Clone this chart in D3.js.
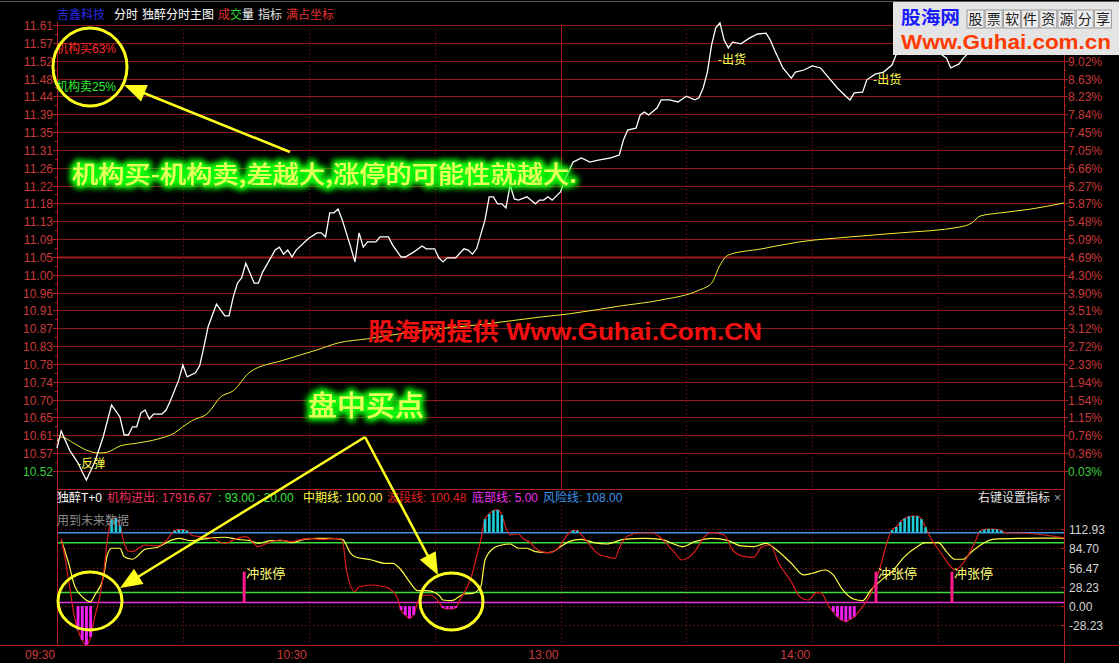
<!DOCTYPE html>
<html><head><meta charset="utf-8">
<script src="https://cdn.jsdelivr.net/npm/d3@7"></script>
<style>
html,body{margin:0;padding:0;background:#000;overflow:hidden;}
svg{display:block;}
</style></head><body>
<svg id="c" width="1119" height="663"></svg>
<script>
// ---------------- DATA ----------------
const priceLabels = ["11.61","11.57","11.52","11.48","11.44","11.39","11.35","11.31","11.26","11.22","11.18","11.13","11.09","11.05","11.00","10.96","10.91","10.87","10.83","10.78","10.74","10.70","10.65","10.61","10.57","10.52"];
// top two percent labels are hidden under the watermark in the picture
const pctLabels = ["","","9.02%","8.63%","8.23%","7.84%","7.45%","7.05%","6.66%","6.27%","5.87%","5.48%","5.09%","4.69%","4.30%","3.90%","3.51%","3.12%","2.72%","2.33%","1.94%","1.54%","1.15%","0.76%","0.36%","0.03%"];
const timeLabels = ["09:30","10:30","13:00","14:00"];
const timeLabelMinutes = [0,60,120,180];
const gridMinutes = [30,60,90,120,150,180,210];
const lowerTicks = [112.93,84.70,56.47,28.23,0.00,-28.23];

const priceMinutes = [0,1,3,5,6,7,9,11,13,15,16,17,18,19,20,21,22,23,25,26,27,29,30,31,33,34,35,36,38,40,41,42,43,44,45,47,48,49,52,53,54,55,56,57,60,62,63,64,65,66,67,68,70,71,72,73,74,76,77,79,80,82,83,85,87,88,90,91,92,93,95,97,98,99,100,102,103,104,105,106,107,108,109,110,112,114,115,116,117,118,120,121,123,125,127,129,132,134,135,136,138,139,140,141,143,144,146,148,150,152,153,154,155,156,157,158,159,160,161,163,165,167,169,170,171,173,175,176,178,180,182,184,186,188,189,190,192,193,195,197,199,200,201,203,206,208,210,212,213,215,216,218,220,222,225,228,232,235,240];
const priceValues = [10.576,10.618,10.571,10.540,10.518,10.498,10.542,10.603,10.681,10.652,10.608,10.608,10.628,10.628,10.662,10.669,10.647,10.659,10.659,10.669,10.691,10.742,10.779,10.750,10.760,10.777,10.823,10.872,10.928,10.899,10.899,10.945,10.979,10.992,11.028,10.979,10.979,11.006,11.060,11.067,11.050,11.060,11.043,11.060,11.089,11.102,11.102,11.092,11.151,11.151,11.160,11.133,11.067,11.031,11.102,11.067,11.080,11.080,11.092,11.092,11.072,11.043,11.043,11.055,11.070,11.063,11.063,11.041,11.031,11.041,11.041,11.063,11.060,11.050,11.063,11.133,11.190,11.190,11.173,11.173,11.163,11.219,11.185,11.182,11.190,11.173,11.182,11.182,11.190,11.182,11.202,11.231,11.275,11.285,11.275,11.280,11.285,11.292,11.329,11.353,11.358,11.390,11.397,11.390,11.407,11.427,11.427,11.422,11.436,11.427,11.432,11.456,11.495,11.561,11.603,11.615,11.573,11.554,11.568,11.564,11.578,11.588,11.590,11.573,11.549,11.505,11.480,11.495,11.500,11.510,11.505,11.480,11.456,11.436,11.427,11.444,11.446,11.476,11.490,11.495,11.512,11.537,11.561,11.578,11.586,11.573,11.544,11.529,11.505,11.515,11.529,11.549,11.573,11.586,11.593,11.598,11.590,11.598,11.603];

const avgMinutes = [0,1,4,7,10,12,15,19,24,28,30,32,36,39,42,46,54,62,67,74,86,102,115,122,134,144,153,156,158,160,168,177,189,201,215,218,220,225,232,240];
const avgValues = [10.593,10.603,10.588,10.571,10.564,10.566,10.581,10.588,10.598,10.613,10.628,10.642,10.662,10.701,10.716,10.762,10.791,10.816,10.833,10.843,10.862,10.879,10.896,10.904,10.923,10.938,10.962,10.979,11.023,11.048,11.063,11.080,11.092,11.102,11.116,11.126,11.143,11.151,11.160,11.175];

// 中期线 (yellow)
const midMinutes = [1,3,4,6,8,9,11,12,13,15,16,18,19,21,24,27,29,32,36,40,43,46,48,51,54,56,59,62,65,68,70,71,75,78,80,82,84,86,88,91,92,94,97,99,101,102,104,106,108,110,112,114,117,119,120,121,122,125,128,131,135,140,144,147,149,152,156,160,163,166,169,171,175,178,180,183,185,187,190,192,194,197,199,202,205,207,210,212,214,216,218,221,223,231,240];
const midValues = [97.2,57.9,33.4,13.7,6.3,16.2,40.8,75.1,85.0,85.0,72.6,68.8,72.6,83.5,86.5,96.2,99.7,96.2,99.7,101.2,98.2,96.2,92.3,96.2,96.2,93.2,98.2,99.7,99.7,98.2,77.6,72.6,67.7,62.9,62.9,53.0,35.8,22.5,22.5,16.2,8.8,7.8,17.7,18.7,28.4,67.7,85.0,89.8,91.3,85.0,85.0,80.0,78.5,82.5,87.3,91.3,94.7,98.2,93.2,91.3,98.2,99.7,98.2,91.3,87.3,94.7,99.7,96.2,88.4,87.3,92.3,85.0,62.9,45.7,48.2,53.0,45.7,26.1,9.9,7.8,23.6,40.8,50.5,72.6,87.3,93.2,93.2,80.0,68.8,68.8,80.0,93.2,98.2,99.7,100.0];

// 波段线 (red)
const waveMinutes = [1,2,3,4,5,6,7,8,9,10,11,12,13,14,15,16,17,18,20,21,24,26,28,29,30,31,32,34,37,40,43,45,48,50,53,56,57,60,63,67,68,69,71,72,75,78,79,81,82,83,84,85,86,87,89,91,92,93,94,95,96,98,99,100,101,102,103,104,105,106,107,108,110,111,113,114,117,119,120,121,122,123,124,125,126,129,131,133,134,136,139,142,144,147,149,152,154,156,159,161,164,166,168,170,172,175,177,179,181,182,184,185,186,187,188,189,190,192,194,196,198,199,200,201,202,203,204,205,206,207,208,211,213,214,217,219,220,221,222,223,224,225,226,231,240];
const waveValues = [99.7,67.7,28.4,-10.8,-35.3,-50.1,-57.4,-45.7,-16,8.8,43.2,97.2,128,129.6,117.8,92.8,81,80,87.3,89.8,88.4,96.2,110.9,112.4,112.4,110.9,104.6,102.1,99.7,92.3,99.7,102.1,87.3,92.3,97.2,94.7,96.2,99.7,98.2,99.7,96.2,53,21.1,28.4,30.9,28.4,26.1,13.7,-5.9,-13.3,-18.1,-13.3,6.6,14.7,16.2,5.9,-2.9,-4.4,-4.4,-2.9,8.8,30.9,48.2,72.6,97.2,128.1,135.5,140.6,141.4,134,114.9,104.6,106,99.7,92.3,85,78.5,82.5,89.8,99.7,107.5,111.2,110.9,104.6,97.2,76.6,72.6,70.2,85,103.1,107.5,107.5,99.7,80,67.7,80,99.7,107.9,104.6,82.5,72.6,71.7,87.3,89.8,62.9,35.8,13.7,8.8,19.6,19.6,-1,-8.4,-15.7,-20.6,-23.1,-19.6,-15.7,-1,18.7,53,97.2,111.9,116.3,123.7,128.9,131.8,132.5,132.5,128,116,103,75.1,57.9,53,72.6,97.2,110.5,112.7,113.4,113.4,112.7,111.2,107.8,107.1,100.5];

const cyanMinutes = [13,14,15,28,29,30,31,102,103,104,105,106,123,124,199,200,201,202,203,204,205,206,207,220,221,222,223,224,225];
const cyanValues = [128,129.6,117.8,110.9,112.4,112.4,110.9,128.1,135.5,140.6,141.4,134,111.2,110.9,111.9,116.3,123.7,128.9,131.8,132.5,132.5,128,116,110.5,112.7,113.4,113.4,112.7,111.2];
const magMinutes = [5,6,7,8,82,83,84,85,92,93,94,95,185,186,187,188,189,190];
const magValues = [-35.3,-50.1,-57.4,-45.7,-5.9,-13.3,-18.1,-13.3,-2.9,-4.4,-4.4,-2.9,-8.4,-15.7,-20.6,-23.1,-19.6,-15.7];
const surgeMinutes = [44.6,195.2,213.3];
const surgeValues = [50.5,50.5,50.5];

const riskLine = 108, midGreen = 93, lowGreen = 20, bottomLine = 5;

// ---------------- SETUP ----------------
const F = "'Liberation Sans','Noto Sans CJK SC',sans-serif";
const CJK = "'Noto Sans CJK SC',sans-serif";
const svg = d3.select('#c');
const X0 = 57, X1 = 1064;
const x = d3.scaleLinear().domain([0,240]).range([X0,X1]);
const yP = d3.scaleLinear().domain([10.52,11.61]).range([471,25]);
const yGrid = d3.scalePoint().domain(priceLabels).range([25,471]);
const yI = d3.scaleLinear().domain([0,112.93]).range([606,529.3]);
const zip = (a,b)=>a.map((m,i)=>({m:m,v:b[i]}));

const defs = svg.append('defs');
const f = defs.append('filter').attr('id','glow').attr('x','-10%').attr('y','-60%').attr('width','120%').attr('height','220%');
f.append('feMorphology').attr('in','SourceAlpha').attr('operator','dilate').attr('radius',2).attr('result','d');
f.append('feGaussianBlur').attr('in','d').attr('stdDeviation',3.2).attr('result','b');
f.append('feFlood').attr('flood-color','#10ff10').attr('flood-opacity',0.95);
f.append('feComposite').attr('in2','b').attr('operator','in').attr('result','g');
const fm = f.append('feMerge');
fm.append('feMergeNode').attr('in','g');
fm.append('feMergeNode').attr('in','g');
fm.append('feMergeNode').attr('in','SourceGraphic');

svg.append('rect').attr('width',1119).attr('height',663).attr('fill','#000');
svg.append('line').attr('x1',0).attr('x2',1119).attr('y1',1.5).attr('y2',1.5).attr('stroke','#5a5a5a');

const g = svg.append('g');
function txt(px,py,s,fill,size,anchor,family){
  return g.append('text').attr('x',px).attr('y',py).attr('dy','0.35em')
    .attr('fill',fill).attr('font-size',size||12).attr('font-family',family||F)
    .attr('text-anchor',anchor||'start').text(s);
}

// ---------------- MAIN GRID ----------------
priceLabels.forEach((lab,i)=>{
  const yy = Math.round(yGrid(lab))+0.5;
  g.append('line').attr('x1',X0).attr('x2',X1).attr('y1',yy).attr('y2',yy)
    .attr('stroke', lab==="11.05" ? '#a01a1a' : '#8e1717').attr('stroke-width', lab==="11.05"?2:1);
  g.append('line').attr('x1',X0-4).attr('x2',X0).attr('y1',yy).attr('y2',yy).attr('stroke','#b02020');
  g.append('line').attr('x1',X1).attr('x2',X1+4).attr('y1',yy).attr('y2',yy).attr('stroke','#b02020');
  if(i<priceLabels.length-1){
    const ym = Math.round((yGrid(lab)+yGrid(priceLabels[i+1]))/2)+0.5;
    g.append('line').attr('x1',X0-2).attr('x2',X0).attr('y1',ym).attr('y2',ym).attr('stroke','#b02020');
    g.append('line').attr('x1',X1).attr('x2',X1+2).attr('y1',ym).attr('y2',ym).attr('stroke','#b02020');
  }
  const low = lab==="10.52";
  txt(53, yy, lab, low?'#3cc83c':'#c83a3a', 12, 'end');
  if(pctLabels[i]) txt(1068, yy, pctLabels[i], low?'#3cc83c':'#c83a3a', 12, 'start');
});
gridMinutes.forEach(m=>{
  const xx = Math.round(x(m))+0.5;
  g.append('line').attr('x1',xx).attr('x2',xx).attr('y1',25).attr('y2',489)
    .attr('stroke', m===120?'#a81c1c':'#8e1717').attr('stroke-dasharray', m===120?null:'1,3');
  g.append('line').attr('x1',xx).attr('x2',xx).attr('y1',489).attr('y2',645)
    .attr('stroke','#8e1717').attr('stroke-dasharray','1,3');
});

// lower grid
lowerTicks.forEach(v=>{
  const yy = Math.round(yI(v))+0.5;
  g.append('line').attr('x1',X0).attr('x2',X1).attr('y1',yy).attr('y2',yy)
    .attr('stroke','#9a1818').attr('stroke-dasharray','1,3');
  g.append('line').attr('x1',X1-3).attr('x2',X1).attr('y1',yy).attr('y2',yy).attr('stroke','#b02020');
  txt(1069, yy, v.toFixed(2), '#d4d4d4', 12, 'start');
});

// frame
g.append('line').attr('x1',X0+0.5).attr('x2',X0+0.5).attr('y1',22).attr('y2',645).attr('stroke','#b02020');
g.append('line').attr('x1',X1+0.5).attr('x2',X1+0.5).attr('y1',22).attr('y2',663).attr('stroke','#b02020');
g.append('line').attr('x1',X0).attr('x2',X1).attr('y1',489.5).attr('y2',489.5).attr('stroke','#b02020');
g.append('line').attr('x1',0).attr('x2',1119).attr('y1',645.5).attr('y2',645.5).attr('stroke','#b02020');

// time labels
timeLabels.forEach((t,i)=>{
  txt(x(timeLabelMinutes[i])-2, 655, t, '#c83a3a', 12, 'end');
});

// level lines
[[riskLine,'#3c96e6'],[midGreen,'#3ce03c'],[lowGreen,'#3ce03c'],[bottomLine,'#e034e0']].forEach(([v,c])=>{
  g.append('line').attr('x1',X0+1).attr('x2',X1).attr('y1',yI(v)).attr('y2',yI(v)).attr('stroke',c).attr('stroke-width',1.5);
});

// ---------------- MAIN LINES ----------------
g.append('path').datum(zip(avgMinutes,avgValues))
  .attr('d',d3.line().x(d=>x(d.m)).y(d=>yP(d.v)).curve(d3.curveMonotoneX))
  .attr('fill','none').attr('stroke','#f0f032').attr('stroke-width',1);
g.append('path').datum(zip(priceMinutes,priceValues))
  .attr('d',d3.line().x(d=>x(d.m)).y(d=>yP(d.v)))
  .attr('fill','none').attr('stroke','#ffffff').attr('stroke-width',1.3);

// ---------------- LOWER LINES ----------------
const lineI = d3.line().x(d=>x(d.m)).y(d=>yI(d.v)).curve(d3.curveMonotoneX);
g.append('path').datum(zip(midMinutes,midValues)).attr('d',lineI)
  .attr('fill','none').attr('stroke','#ffff46').attr('stroke-width',1.2);
g.append('path').datum(zip(waveMinutes,waveValues)).attr('d',lineI)
  .attr('fill','none').attr('stroke','#dc1c1c').attr('stroke-width',1.2);

g.selectAll('.cy').data(zip(cyanMinutes,cyanValues)).enter().append('rect')
  .attr('x',d=>x(d.m)-1.2).attr('width',2.6)
  .attr('y',d=>yI(d.v)).attr('height',d=>yI(riskLine)-yI(d.v))
  .attr('fill','#1ecbd8');
g.selectAll('.mg').data(zip(magMinutes,magValues)).enter().append('rect')
  .attr('x',d=>x(d.m)-1.4).attr('width',2.9)
  .attr('y',yI(0)).attr('height',d=>yI(d.v)-yI(0))
  .attr('fill','#f020f0');
const surge = zip(surgeMinutes,surgeValues);
g.selectAll('.sg').data(surge).enter().append('rect')
  .attr('x',d=>x(d.m)-1.5).attr('width',3)
  .attr('y',d=>yI(d.v)).attr('height',d=>yI(bottomLine)-yI(d.v))
  .attr('fill','#ff1a8c');
surge.forEach(d=>txt(x(d.m)+2, yI(d.v)+1.5, '冲张停', '#ffff78', 13, 'start', CJK));

// ---------------- TEXT LABELS ----------------
txt(57,15,'吉鑫科技','#2a2ae0',12,'start',CJK);
txt(114,15,'分时','#ffffff',12,'start',CJK);
txt(142,15,'独醉分时主图','#ffffff',12,'start',CJK);
txt(218,15,'成','#e03030',12,'start',CJK);
txt(230,15,'交','#30d030',12,'start',CJK);
txt(242,15,'量','#ffffff',12,'start',CJK);
txt(258,15,'指标','#e0e0e0',12,'start',CJK);
txt(286,15,'满占坐标','#e03030',12,'start',CJK);

txt(56,49,'机构买63%','#ff2a2a',12,'start',F);
txt(56,87,'机构卖25%','#30ee30',12,'start',F);

txt(57,498,'独醉T+0','#ffffff',12);
txt(107,498,'机构进出: 17916.67','#e8305a',12);
txt(218,498,': 93.00','#3ce03c',12);
txt(257,498,': 20.00','#3ce03c',12);
txt(303,498,'中期线: 100.00','#ffff46',12);
txt(387,498,'波段线: 100.48','#e02020',12);
txt(472,498,'底部线: 5.00','#f030f0',12);
txt(543,498,'风险线: 108.00','#3c96e6',12);
txt(978,498,'右键设置指标','#e0e0e0',12,'start',CJK);
txt(1054,498,'×','#a0a0a0',12);
txt(57,521,'用到未来数据','#8a8a8a',12,'start',CJK);

txt(x(4.77), yP(10.537), '-反弹', '#ffff50', 12, 'start', CJK);
txt(x(157.5), yP(11.524), '-出货', '#ffff50', 12, 'start', CJK);
txt(x(194.5), yP(11.476), '-出货', '#ffff50', 12, 'start', CJK);

// ---------------- OVERLAYS ----------------
const ov = svg.append('g');
function glowText(px,py,s,size,len){
  ov.append('text').attr('x',px).attr('y',py).attr('dy','0.35em').attr('font-size',size)
    .attr('font-family',CJK).attr('font-weight',500).attr('fill','#e2ff5a')
    .attr('textLength',len).attr('lengthAdjust','spacingAndGlyphs')
    .attr('filter','url(#glow)').text(s);
}
glowText(72,175,'机构买-机构卖,差越大,涨停的可能性就越大.',24,505);
glowText(308,406,'盘中买点',28,116);

ov.append('text').attr('x',368).attr('y',332).attr('dy','0.35em').attr('font-size',24)
  .attr('font-family',F).attr('font-weight','bold')
  .attr('fill','#f01010').attr('textLength',394).attr('lengthAdjust','spacingAndGlyphs')
  .text('股海网提供 Www.Guhai.Com.CN');

const Y = '#ffff1e';
function arrow(x1,y1,x2,y2,len,wid){
  const dx=x2-x1, dy=y2-y1, L=Math.hypot(dx,dy), ux=dx/L, uy=dy/L;
  const bx=x2-ux*len, by=y2-uy*len;
  ov.append('line').attr('x1',x1).attr('y1',y1).attr('x2',bx+ux*2).attr('y2',by+uy*2)
    .attr('stroke',Y).attr('stroke-width',2.5);
  ov.append('path').attr('d',`M${x2},${y2}L${bx-uy*wid},${by+ux*wid}L${bx+uy*wid},${by-ux*wid}Z`).attr('fill',Y);
}
arrow(290,152,124,85,22,9);
arrow(365,437,120,588,22,9);
arrow(365,437,438,575,22,9);

[[90,67,37,39],[90,601,32,29],[451.5,601.5,31.5,28.5]].forEach(([cx,cy,rx,ry])=>{
  ov.append('ellipse').attr('cx',cx).attr('cy',cy).attr('rx',rx).attr('ry',ry)
    .attr('fill','none').attr('stroke',Y).attr('stroke-width',3);
});

// watermark
const wm = svg.append('g');
wm.append('rect').attr('x',893).attr('y',2).attr('width',226).attr('height',53).attr('fill','#e4e4e4');
wm.append('text').attr('x',901).attr('y',18).attr('dy','0.35em').attr('font-size',18).attr('font-weight','bold')
  .attr('font-family',CJK).attr('fill','#1a1aff').attr('textLength',59).attr('lengthAdjust','spacingAndGlyphs').text('股海网');
'股票软件资源分享'.split('').forEach((ch,i)=>{
  const bx = 967 + i*18.2;
  wm.append('rect').attr('x',bx).attr('y',10).attr('width',17).attr('height',18)
    .attr('fill','#eeeeee').attr('stroke','#9a9a9a').attr('stroke-width',1);
  wm.append('text').attr('x',bx+8.5).attr('y',19).attr('dy','0.35em').attr('text-anchor','middle')
    .attr('font-size',14).attr('font-family',CJK).attr('fill','#202020').text(ch);
});
wm.append('text').attr('x',901).attr('y',41.5).attr('dy','0.35em').attr('font-size',21).attr('font-weight','bold')
  .attr('font-family',"'Liberation Sans',sans-serif").attr('fill','#ff3a00')
  .attr('textLength',210).attr('lengthAdjust','spacingAndGlyphs').text('Www.Guhai.com.cn');
</script>
</body></html>
